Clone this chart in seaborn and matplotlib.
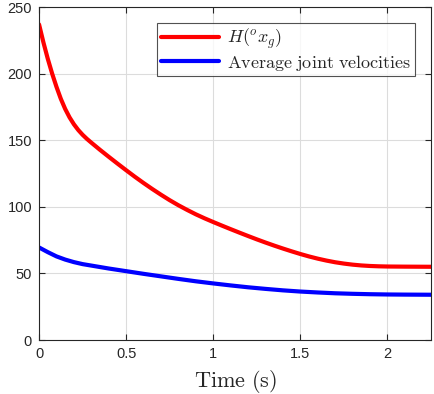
import numpy as np
import pandas as pd
import seaborn as sns
import matplotlib.pyplot as plt

# values
time_red = [0.0, 0.025, 0.05, 0.075, 0.1, 0.125, 0.15, 0.175, 0.2, 0.225, 0.25, 0.275,
            0.3, 0.35, 0.4, 0.45, 0.5, 0.55, 0.6, 0.65, 0.7, 0.75, 0.8, 0.85, 0.9, 0.95,
            1.0, 1.05, 1.1, 1.15, 1.2, 1.25, 1.3, 1.35, 1.4, 1.45, 1.5, 1.55, 1.6, 1.65,
            1.7, 1.75, 1.8, 1.85, 1.9, 1.95, 2.0, 2.1, 2.25]
h_values = [237, 223.5, 211.2, 200.1, 190.1, 181.1, 173.5, 167.2, 162, 157.7, 154.1, 151,
            148.2, 142.8, 137.6, 132.5, 127.5, 122.6, 117.9, 113.4, 109.1, 105, 101.2, 97.7,
            94.4, 91.4, 88.6, 85.9, 83.25, 80.65, 78.1, 75.6, 73.2, 70.9, 68.7, 66.6, 64.6,
            62.75, 61.1, 59.65, 58.4, 57.4, 56.6, 56, 55.6, 55.35, 55.2, 55.1, 55]

time_blue = [0.0, 0.05, 0.1, 0.15, 0.2, 0.25, 0.3, 0.4, 0.5, 0.6, 0.7, 0.8, 0.9,
             1.0, 1.1, 1.2, 1.3, 1.4, 1.5, 1.6, 1.7, 1.8, 1.9, 2.0, 2.1, 2.25]
vel_values = [69.5, 66, 62.8, 60.4, 58.5, 57, 55.9, 53.7, 51.7, 49.7, 47.8, 45.9, 44.1,
              42.5, 41, 39.6, 38.4, 37.3, 36.4, 35.7, 35.1, 34.7, 34.4, 34.2, 34.1, 34]

labels = [r'$H(^o x_g)$', r'$\mathrm{Average\ joint\ velocities}$']
colors = ['#ff0000', '#0000ff']

df = pd.concat([
    pd.DataFrame({'t': time_red, 'v': h_values, 'series': labels[0]}),
    pd.DataFrame({'t': time_blue, 'v': vel_values, 'series': labels[1]}),
])

sns.set_theme(style="whitegrid")
plt.rcParams['font.family'] = ['Liberation Sans', 'DejaVu Sans']
plt.rcParams['mathtext.fontset'] = 'cm'

fig = plt.figure(figsize=(4.34, 3.94), dpi=100)
ax = fig.add_axes([0.09, 0.137, 0.903, 0.845])

sns.lineplot(data=df, x='t', y='v', hue='series', palette=colors, linewidth=3,
             ax=ax, legend=True)

ax.set_xlim(0, 2.25)
ax.set_ylim(0, 250)
ax.set_xticks([0, 0.5, 1, 1.5, 2])
ax.set_xticklabels(['0', '0.5', '1', '1.5', '2'])
ax.set_yticks([0, 50, 100, 150, 200, 250])
ax.set_xlabel(r'$\mathrm{Time\ (s)}$', fontsize=16, color='#262626', labelpad=5)
ax.set_ylabel('')

ax.set_facecolor('white')
ax.grid(True, color='#dcdcdc', linewidth=0.8)
for s in ax.spines.values():
    s.set_color('#262626')
    s.set_linewidth(0.8)
ax.tick_params(axis='both', direction='in', length=4, width=0.8, color='#262626',
               labelsize=10.5, labelcolor='#262626', top=True, right=True,
               bottom=True, left=True, pad=5)

leg = ax.legend(loc='upper right', bbox_to_anchor=(0.959, 0.952), fontsize=13,
                frameon=True, fancybox=False, edgecolor='#262626',
                handlelength=3.2, borderpad=0.2, labelspacing=0.1,
                handletextpad=0.45, borderaxespad=0)
leg.get_frame().set_linewidth(0.8)

fig.savefig('out.png', dpi=100)
